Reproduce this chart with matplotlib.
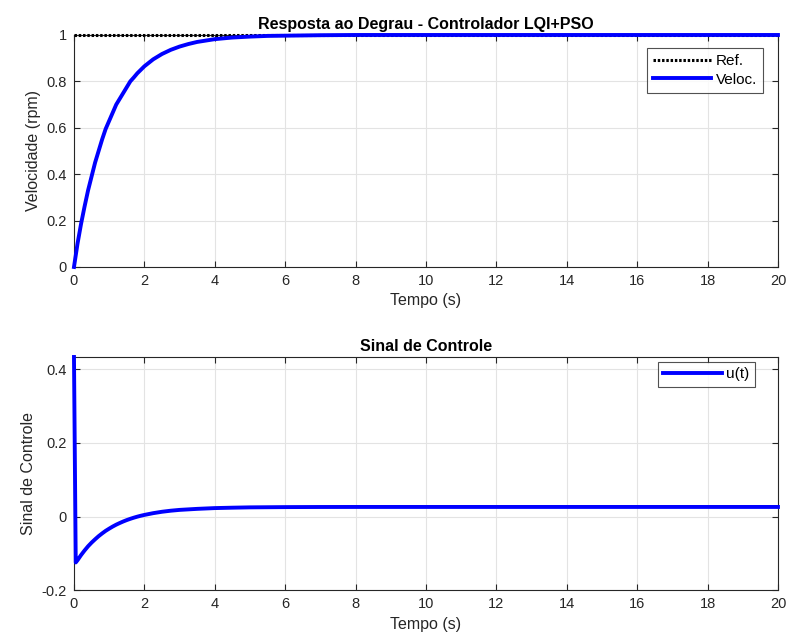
import matplotlib
matplotlib.use("Agg")
import matplotlib.pyplot as plt

plt.rcParams['font.family'] = ['Liberation Sans', 'DejaVu Sans']

# --- data ---
t_vel = [0, 0.1, 0.2, 0.3, 0.4, 0.5, 0.6, 0.7, 0.8, 0.9, 1.0, 1.1, 1.2, 1.3,
         1.4, 1.5, 1.6, 1.7, 1.8, 1.9, 2.0, 2.25, 2.5, 2.75, 3.0, 3.25, 3.5,
         3.75, 4.0, 4.5, 5.0, 5.5, 6.0, 7.0, 8.0, 10, 12, 14, 16, 18, 20]
velocidade = [0, 0.10, 0.185, 0.26, 0.33, 0.39, 0.45, 0.50, 0.55, 0.595,
              0.63, 0.665, 0.70, 0.725, 0.75, 0.775, 0.80, 0.817, 0.835,
              0.85, 0.865, 0.895, 0.918, 0.936, 0.95, 0.961, 0.97, 0.976,
              0.982, 0.989, 0.993, 0.996, 0.997, 0.999, 1.0, 1.0, 1.0, 1.0,
              1.0, 1.0, 1.0]
t_ref = [0, 20]
referencia = [1, 1]

t_u = [0, 0.05, 0.1, 0.2, 0.3, 0.4, 0.5, 0.6, 0.7, 0.8, 0.9, 1.0, 1.1, 1.2,
       1.3, 1.4, 1.5, 1.6, 1.7, 1.8, 1.9, 2.0, 2.25, 2.5, 2.75, 3.0, 3.5,
       4.0, 4.5, 5.0, 6.0, 7.0, 8.0, 10, 12, 14, 16, 18, 20]
sinal = [0.434, -0.125, -0.119, -0.105, -0.0925, -0.081, -0.071, -0.062,
         -0.0535, -0.046, -0.039, -0.033, -0.0273, -0.0222, -0.0177,
         -0.0135, -0.0097, -0.0063, -0.0032, -0.0004, 0.0021, 0.0043,
         0.0091, 0.0129, 0.0158, 0.018, 0.0208, 0.0229, 0.024, 0.0249,
         0.0256, 0.0259, 0.026, 0.026, 0.026, 0.026, 0.026, 0.026, 0.026]

x_ticks = [0, 2, 4, 6, 8, 10, 12, 14, 16, 18, 20]
y_ticks_top = [0, 0.2, 0.4, 0.6, 0.8, 1]
y_ticks_bot = [-0.2, 0, 0.2, 0.4]

AX_COLOR = '#262626'
GRID_COLOR = '#e3e3e3'

fig = plt.figure(figsize=(7.87, 6.43), dpi=100)
ax1 = fig.add_axes([0.094, 0.5848, 0.8945, 0.3608])
ax2 = fig.add_axes([0.094, 0.0824, 0.8945, 0.3624])


def style(ax):
    ax.grid(True, color=GRID_COLOR, linewidth=0.8)
    ax.set_axisbelow(True)
    for s in ax.spines.values():
        s.set_color(AX_COLOR)
        s.set_linewidth(0.8)
    ax.tick_params(direction='in', top=True, right=True, length=4,
                   width=0.8, color=AX_COLOR, labelcolor=AX_COLOR,
                   labelsize=10.5, pad=5)


ax1.plot(t_ref, referencia, linestyle=(0, (0.8, 0.6)), color='black',
         linewidth=2.2, label='Ref.', clip_on=False, zorder=3)
ax1.plot(t_vel, velocidade, color='blue', linewidth=2.8, label='Veloc.',
         clip_on=False, zorder=4)
ax1.set_xlim(0, 20)
ax1.set_ylim(0, 1)
ax1.set_xticks(x_ticks)
ax1.set_yticks(y_ticks_top)
ax1.set_yticklabels(['0', '0.2', '0.4', '0.6', '0.8', '1'])
style(ax1)
ax1.set_title('Resposta ao Degrau - Controlador LQI+PSO', fontsize=11.5,
              fontweight='bold', pad=4)
ax1.set_xlabel('Tempo (s)', fontsize=11.5, color=AX_COLOR, labelpad=4)
ax1.set_ylabel('Velocidade (rpm)', fontsize=11.5, color=AX_COLOR, labelpad=4)
leg1 = ax1.legend(loc='upper right', bbox_to_anchor=(0.9787, 0.944),
                  prop={'size': 11}, frameon=True, fancybox=False,
                  handlelength=3.8, handletextpad=0.3, borderpad=0.4,
                  labelspacing=0.3, borderaxespad=0)
leg1.get_frame().set_edgecolor(AX_COLOR)
leg1.get_frame().set_linewidth(0.8)

ax2.plot(t_u, sinal, color='blue', linewidth=2.8, label='u(t)',
         clip_on=False, zorder=4)
ax2.set_xlim(0, 20)
ax2.set_ylim(-0.2, 0.434)
ax2.set_xticks(x_ticks)
ax2.set_yticks(y_ticks_bot)
ax2.set_yticklabels(['-0.2', '0', '0.2', '0.4'])
style(ax2)
ax2.set_title('Sinal de Controle', fontsize=11.5, fontweight='bold', pad=4)
ax2.set_xlabel('Tempo (s)', fontsize=11.5, color=AX_COLOR, labelpad=4)
ax2.set_ylabel('Sinal de Controle', fontsize=11.5, color=AX_COLOR, labelpad=4)
leg2 = ax2.legend(loc='upper right', bbox_to_anchor=(0.967, 0.9785),
                  prop={'size': 11}, frameon=True, fancybox=False,
                  handlelength=3.8, handletextpad=0.3, borderpad=0.35,
                  borderaxespad=0)
leg2.get_frame().set_edgecolor(AX_COLOR)
leg2.get_frame().set_linewidth(0.8)

fig.savefig('out.png', dpi=100, facecolor='white')
